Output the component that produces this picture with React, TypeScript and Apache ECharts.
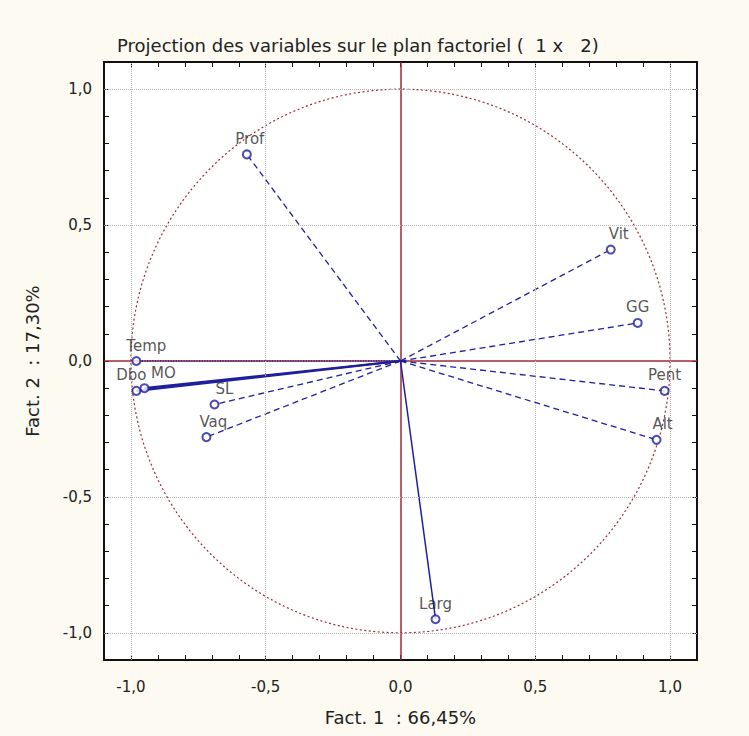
import React, { useEffect, useRef } from "react";
import * as echarts from "echarts";

const variables = ["Prof", "Vit", "GG", "Pent", "Alt", "Larg", "Temp", "MO", "Dbo", "SL", "Vaq"];
const fact1 = [-0.57, 0.78, 0.88, 0.98, 0.95, 0.13, -0.98, -0.95, -0.98, -0.69, -0.72];
const fact2 = [0.76, 0.41, 0.14, -0.11, -0.29, -0.95, 0.0, -0.1, -0.11, -0.16, -0.28];
const gridValues = [-1.0, -0.5, 0.5, 1.0];

const titleText = "Projection des variables sur le plan factoriel (  1 x   2)";
const xName = "Fact. 1  : 66,45%";
const yName = "Fact. 2  : 17,30%";

// styling maps (not data)
const lineType: Record<string, string> = { MO: "solid", Dbo: "solid", Larg: "solid", Temp: "dotted" };
const lineWidth: Record<string, number> = { MO: 2.2, Dbo: 2.2, Larg: 1.5 };
const labelShift: Record<string, number> = { Temp: 10, MO: 19, Dbo: -5, SL: 10, Vaq: 7, Vit: 8, Alt: 6, Prof: 3 };

const FONT = "DejaVu Sans, Verdana, sans-serif";
const NAVY = "#1f1f9e";
const RED = "#a02a35";

const fmt = (v: number) => {
  const r = Math.round(v * 10) / 10;
  return (r === 0 ? 0 : r).toFixed(1).replace(".", ",");
};
const isHalf = (v: number) => Math.abs(Math.round(v * 10)) % 5 === 0;

export default function App() {
  const ref = useRef<HTMLDivElement>(null);
  useEffect(() => {
    if (!ref.current) return;
    const chart = echarts.init(ref.current, undefined, { renderer: "svg" });

    const baseAxis = {
      min: -1.1,
      max: 1.1,
      interval: 0.1,
      axisLine: { show: true, onZero: false, lineStyle: { color: "#111", width: 2 } },
      axisTick: { show: true, inside: true, length: 5, lineStyle: { color: "#111", width: 1 } },
      minorTick: { show: false },
      splitLine: { show: false },
    };

    const gridMarks = {
      silent: true,
      symbol: "none",
      label: { show: false },
      lineStyle: { color: "#b5b5b5", type: "dotted", width: 1 },
      data: [...gridValues.map((v) => ({ xAxis: v })), ...gridValues.map((v) => ({ yAxis: v }))],
    };

    const lineSeries = variables.map((name, i) => ({
      type: "line",
      name,
      data: [
        [0, 0],
        [fact1[i], fact2[i]],
      ],
      showSymbol: false,
      symbol: "none",
      silent: true,
      z: 3,
      lineStyle: { color: NAVY, width: lineWidth[name] ?? 1.3, type: lineType[name] ?? [6, 4] },
      ...(i === 0 ? { markLine: gridMarks } : {}),
    }));

    chart.setOption({
      animation: false,
      backgroundColor: "#fcfaf1",
      title: {
        text: titleText,
        left: 112,
        top: 31,
        textStyle: { fontFamily: FONT, fontSize: 18, fontWeight: "normal", color: "#222" },
      },
      grid: {
        left: 104,
        right: 52,
        top: 62,
        bottom: 76,
        show: true,
        backgroundColor: "#ffffff",
        borderWidth: 0,
      },
      xAxis: [
        {
          ...baseAxis,
          type: "value",
          position: "bottom",
          name: xName,
          nameLocation: "middle",
          nameGap: 48,
          nameTextStyle: { fontFamily: FONT, fontSize: 18, color: "#222" },
          axisLabel: {
            fontFamily: FONT,
            fontSize: 15,
            color: "#222",
            margin: 19,
            formatter: (v: number) => (isHalf(v) ? fmt(v) : ""),
          },
        },
        {
          ...baseAxis,
          type: "value",
          position: "top",
          axisLabel: { show: false },
        },
      ],
      yAxis: [
        {
          ...baseAxis,
          type: "value",
          position: "left",
          name: yName,
          nameLocation: "middle",
          nameGap: 63,
          nameRotate: 90,
          nameTextStyle: { fontFamily: FONT, fontSize: 18, color: "#222" },
          axisLabel: {
            fontFamily: FONT,
            fontSize: 15,
            color: "#222",
            margin: 12,
            formatter: (v: number) => (isHalf(v) ? fmt(v) : ""),
          },
        },
        {
          ...baseAxis,
          type: "value",
          position: "right",
          axisLabel: { show: false },
        },
      ],
      series: [
        {
          type: "custom",
          name: "cercle",
          coordinateSystem: "cartesian2d",
          silent: true,
          z: 2,
          data: [[0, 0]],
          renderItem: (_params: any, api: any) => {
            const c = api.coord([0, 0]);
            const rx = api.coord([1, 0])[0] - c[0];
            const ry = c[1] - api.coord([0, 1])[1];
            return {
              type: "ellipse",
              shape: { cx: c[0], cy: c[1], rx, ry },
              style: { fill: "none", stroke: RED, lineWidth: 1.2, lineDash: [2, 2.5] },
            };
          },
        },
        ...lineSeries,
        {
          type: "scatter",
          name: "variables",
          z: 5,
          symbol: "emptyCircle",
          symbolSize: 8,
          itemStyle: { color: NAVY, borderColor: NAVY, borderWidth: 1.3 },
          data: variables.map((name, i) => ({
            name,
            value: [fact1[i], fact2[i]],
            label: { offset: [labelShift[name] ?? 0, 0] },
          })),
          label: {
            show: true,
            position: "top",
            distance: 3,
            formatter: (p: any) => p.name,
            fontFamily: FONT,
            fontSize: 15,
            color: "#2a2a2a",
          },
          markLine: {
            silent: true,
            symbol: "none",
            label: { show: false },
            lineStyle: { color: RED, type: "solid", width: 1.5 },
            data: [{ xAxis: 0 }, { yAxis: 0 }],
            z: 1,
          },
        },
      ],
    });
    return () => chart.dispose();
  }, []);
  return (
    <div
      ref={ref}
      style={{ position: "absolute", left: 0, top: 0, width: 749, height: 736 }}
    />
  );
}
